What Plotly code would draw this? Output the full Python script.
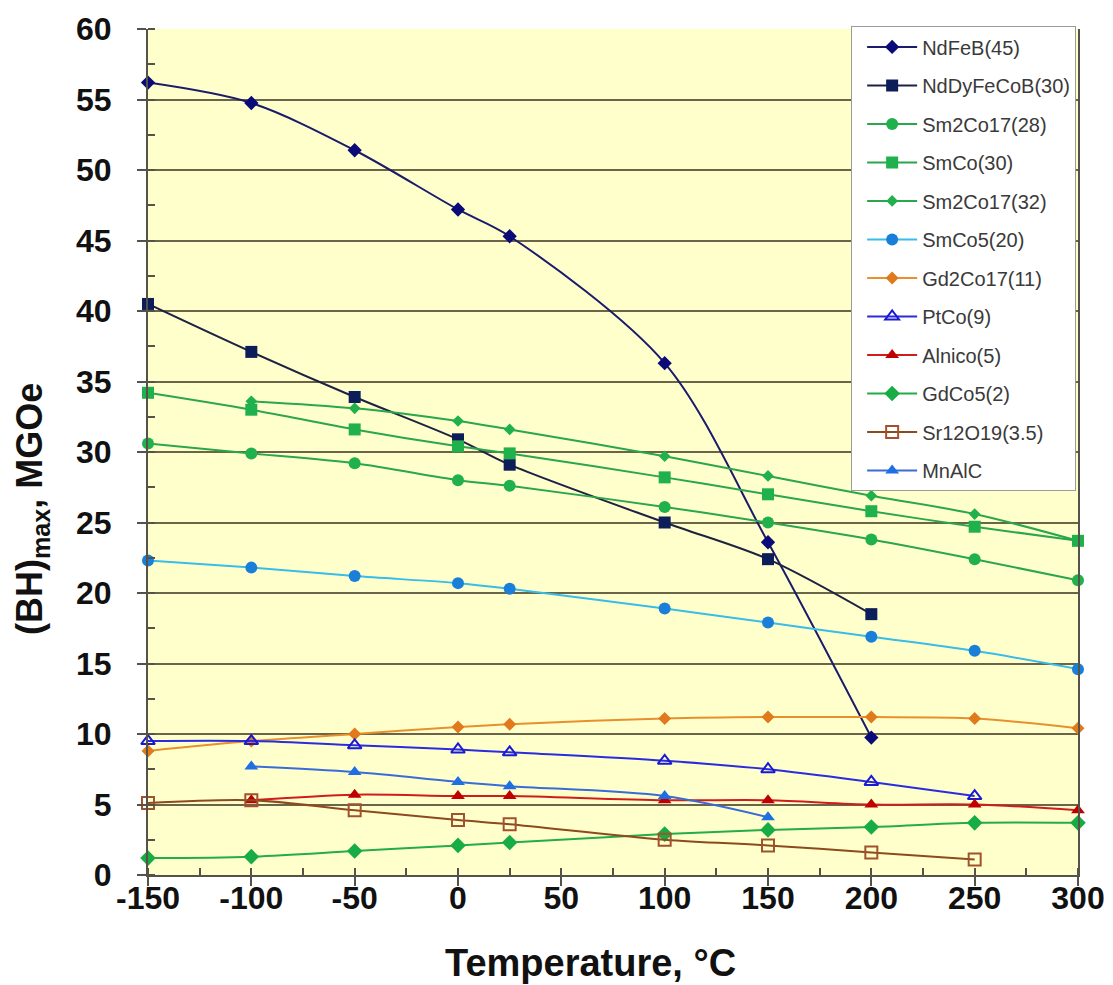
import plotly.graph_objects as go

# ---- data ----
temps_all = [-150, -100, -50, 0, 25, 100, 150, 200, 250, 300]
temps_to200 = [-150, -100, -50, 0, 25, 100, 150, 200]
temps_to250 = [-150, -100, -50, 0, 25, 100, 150, 200, 250]
temps_m100_300 = [-100, -50, 0, 25, 100, 150, 200, 250, 300]
temps_m100_150 = [-100, -50, 0, 25, 100, 150]

ndfeb_45 = [56.2, 54.75, 51.4, 47.2, 45.3, 36.3, 23.6, 9.75]
nddyfecob_30 = [40.5, 37.1, 33.9, 30.9, 29.1, 25.0, 22.4, 18.5]
sm2co17_28 = [30.6, 29.9, 29.2, 28.0, 27.6, 26.1, 25.0, 23.8, 22.4, 20.9]
smco_30 = [34.2, 33.0, 31.6, 30.4, 29.9, 28.2, 27.0, 25.8, 24.7, 23.7]
sm2co17_32 = [33.6, 33.1, 32.2, 31.6, 29.7, 28.3, 26.9, 25.6, 23.7]
smco5_20 = [22.3, 21.8, 21.2, 20.7, 20.3, 18.9, 17.9, 16.9, 15.9, 14.6]
gd2co17_11 = [8.8, 9.5, 10.0, 10.5, 10.7, 11.1, 11.2, 11.2, 11.1, 10.4]
ptco_9 = [9.5, 9.5, 9.2, 8.9, 8.7, 8.1, 7.5, 6.6, 5.6]
alnico_5 = [5.3, 5.7, 5.6, 5.6, 5.3, 5.3, 5.0, 5.0, 4.6]
gdco5_2 = [1.2, 1.3, 1.7, 2.1, 2.3, 2.9, 3.2, 3.4, 3.7, 3.7]
sr12o19_35 = [5.1, 5.3, 4.6, 3.9, 3.6, 2.5, 2.1, 1.6, 1.1]
mnalc = [7.7, 7.3, 6.6, 6.3, 5.6, 4.1]

x_ticks = [-150, -100, -50, 0, 50, 100, 150, 200, 250, 300]
y_ticks = [0, 5, 10, 15, 20, 25, 30, 35, 40, 45, 50, 55, 60]

x_title = "Temperature, °C"
y_title = "(BH)<sub>max</sub>, MGOe"

series = [
    ("NdFeB(45)", temps_to200, ndfeb_45, "#1b1b6b", "#0a0a78", "diamond", 11),
    ("NdDyFeCoB(30)", temps_to200, nddyfecob_30, "#1d2242", "#0d1d5a", "square", 12),
    ("Sm2Co17(28)", temps_all, sm2co17_28, "#2aa64c", "#20b04c", "circle", 12),
    ("SmCo(30)", temps_all, smco_30, "#2aa64c", "#20b04c", "square", 12),
    ("Sm2Co17(32)", temps_m100_300, sm2co17_32, "#2aa64c", "#20b04c", "diamond", 9),
    ("SmCo5(20)", temps_all, smco5_20, "#38bde8", "#1a7fd8", "circle", 12),
    ("Gd2Co17(11)", temps_all, gd2co17_11, "#e8902e", "#e07a1c", "diamond", 10),
    ("PtCo(9)", temps_to250, ptco_9, "#2b2be0", "#1a1ad4", "triangle-up-open", 12),
    ("Alnico(5)", temps_m100_300, alnico_5, "#d01c1c", "#c00000", "triangle-up", 12),
    ("GdCo5(2)", temps_all, gdco5_2, "#24ac48", "#18ac44", "diamond", 12),
    ("Sr12O19(3.5)", temps_to250, sr12o19_35, "#8c4a1e", "#a0522d", "square-open", 12),
    ("MnAlC", temps_m100_150, mnalc, "#3a6cd8", "#1e6ee4", "triangle-up", 12),
]

FONT = "Liberation Sans, Arial, sans-serif"

fig = go.Figure()
for name, xs, ys, lc, mc, sym, ms in series:
    fig.add_trace(go.Scatter(
        x=xs, y=ys, name=name, mode="lines+markers",
        legendgroup=name,
        line=dict(color=lc, width=2, shape="spline", smoothing=0.9),
        marker=dict(color=mc, symbol=sym, size=ms,
                    line=dict(color=mc, width=2 if "open" in sym else 0)),
        cliponaxis=False,
    ))

fig.update_layout(
    width=1105, height=977,
    paper_bgcolor="white",
    plot_bgcolor="#ffffcc",
    margin=dict(l=140, r=35, t=21, b=110, autoexpand=False),
    font=dict(family=FONT),
    showlegend=True,
    legend=dict(
        x=0.998, y=1.003, xanchor="right", yanchor="top",
        bgcolor="white", bordercolor="#9a9a9a", borderwidth=1,
        font=dict(family=FONT, size=20, color="#3a3a3a"),
        tracegroupgap=9.5, itemwidth=50, indentation=10,
    ),
    xaxis=dict(
        range=[-150, 300], tickmode="array", tickvals=x_ticks,
        ticktext=[str(v) for v in x_ticks], automargin=False,
        showgrid=False, zeroline=False,
        showline=True, linecolor="#55524a", linewidth=2,
        ticks="outside", ticklen=9, tickwidth=2, tickcolor="#55524a",
        minor=dict(dtick=25, tick0=0, ticks="inside", ticklen=7, tickwidth=1.5, tickcolor="#55524a"),
        tickfont=dict(family=FONT, size=32, color="#111111", weight="bold"),
        ticklabelstandoff=-15,
    ),
    yaxis=dict(
        range=[0, 60], tickmode="array", tickvals=y_ticks,
        ticktext=[str(v) for v in y_ticks], automargin=False,
        showgrid=True, gridcolor="#6a6448", gridwidth=2,
        zeroline=False,
        showline=True, linecolor="#55524a", linewidth=2, mirror=True,
        ticks="outside", ticklen=9, tickwidth=2, tickcolor="#55524a",
        minor=dict(dtick=2.5, tick0=0, ticks="inside", ticklen=7, tickwidth=1.5, tickcolor="#55524a"),
        tickfont=dict(family=FONT, size=32, color="#111111", weight="bold"),
        ticklabelstandoff=19,
    ),
    annotations=[
        dict(text="<b>" + x_title + "</b>", xref="paper", yref="paper",
             x=0.4763, y=-0.104, xanchor="center", yanchor="middle",
             showarrow=False, font=dict(family=FONT, size=38, color="#111111")),
        dict(text="<b>" + y_title + "</b>", xref="paper", yref="paper",
             x=-0.1247, y=0.4326, xanchor="center", yanchor="middle",
             textangle=-90, showarrow=False,
             font=dict(family=FONT, size=36, color="#111111")),
    ],
)

fig.write_html("out.html")
